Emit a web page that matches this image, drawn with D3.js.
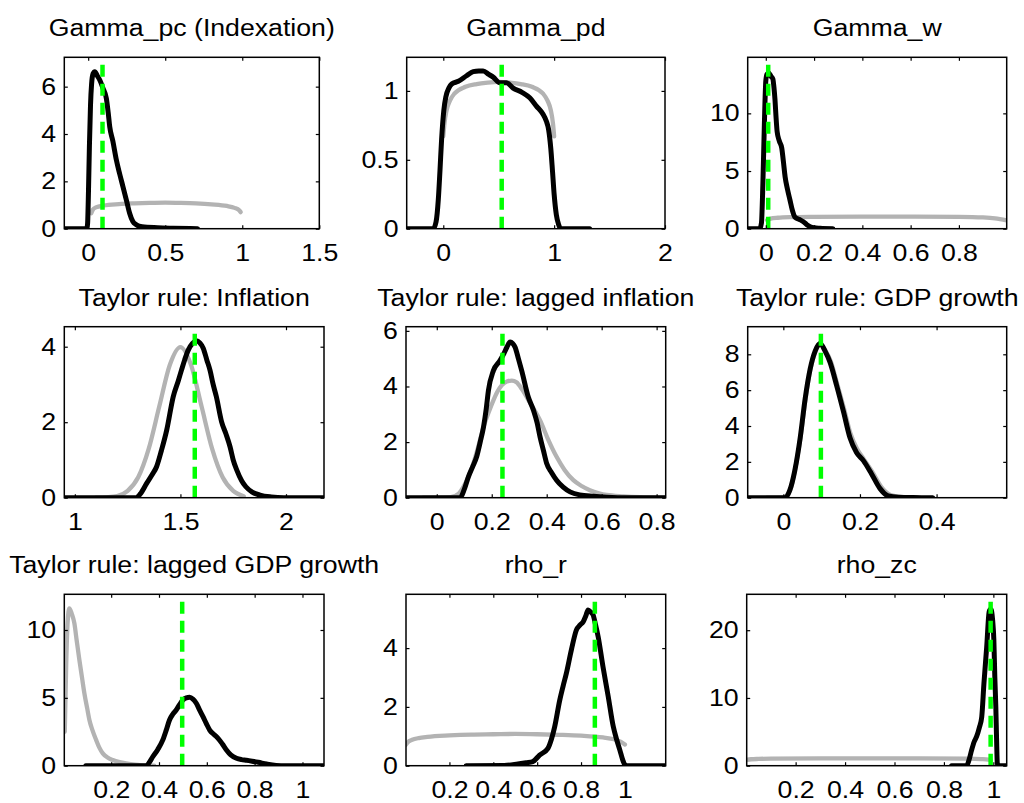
<!DOCTYPE html>
<html>
<head>
<meta charset="utf-8">
<script src="https://cdn.jsdelivr.net/npm/d3@7"></script>
<style>
  body { margin: 0; background: #fff; }
  svg text { font-family: "Liberation Sans", Arial, Helvetica, sans-serif; fill: #000; }
</style>
</head>
<body>
<div id="chart"></div>
<script>
// panel titles, posterior modes (green dashed line)
const titles = ["Gamma_pc (Indexation)", "Gamma_pd", "Gamma_w",
  "Taylor rule: Inflation", "Taylor rule: lagged inflation", "Taylor rule: GDP growth",
  "Taylor rule: lagged GDP growth", "rho_r", "rho_zc"];
const modes = [0.093, 0.527, 0.01, 1.568, 0.239, 0.098, 0.497, 0.863, 0.989];

// axis limits and ticks
const xDomains = [[-0.155, 1.5], [-0.33, 2.0], [-0.075, 0.998],
  [0.95, 2.18], [-0.112, 0.833], [-0.093, 0.583],
  [0.004, 1.09], [0.002, 1.186], [0.002, 1.054]];
const yDomains = [[0, 7.24], [0, 1.244], [0, 14.86],
  [0, 4.53], [0, 6.15], [0, 9.54],
  [0, 12.63], [0, 5.83], [0, 25.3]];
const xTicks = [[0, 0.5, 1, 1.5], [0, 1, 2], [0, 0.2, 0.4, 0.6, 0.8],
  [1, 1.5, 2], [0, 0.2, 0.4, 0.6, 0.8], [0, 0.2, 0.4],
  [0.2, 0.4, 0.6, 0.8, 1], [0.2, 0.4, 0.6, 0.8, 1], [0.2, 0.4, 0.6, 0.8, 1]];
const yTicks = [[0, 2, 4, 6], [0, 0.5, 1], [0, 5, 10],
  [0, 2, 4], [0, 2, 4, 6], [0, 2, 4, 6, 8],
  [0, 5, 10], [0, 2, 4], [0, 10, 20]];

// prior densities (grey)
const priors = [
  [[0.02,0.65],[0.03,0.8],[0.05,0.9],[0.1,0.98],[0.2,1.04],[0.3,1.07],[0.4,1.09],[0.5,1.1],[0.6,1.09],[0.7,1.07],[0.8,1.03],[0.9,0.96],[0.95,0.88],[0.98,0.78],[0.99,0.7]],
  [[0.0,0.67],[0.01,0.76],[0.03,0.86],[0.06,0.93],[0.1,0.98],[0.2,1.03],[0.3,1.05],[0.4,1.06],[0.5,1.065],[0.6,1.06],[0.7,1.05],[0.8,1.03],[0.9,0.98],[0.94,0.93],[0.97,0.86],[0.99,0.76],[1.0,0.67]],
  [[0.005,0.75],[0.02,0.88],[0.05,0.95],[0.1,1.0],[0.2,1.03],[0.4,1.05],[0.6,1.05],[0.8,1.03],[0.9,0.98],[0.95,0.9],[0.998,0.72]],
  [[1.1,0],[1.15,0.01],[1.2,0.04],[1.25,0.18],[1.3,0.54],[1.35,1.3],[1.4,2.42],[1.45,3.52],[1.5,3.99],[1.55,3.52],[1.6,2.42],[1.65,1.3],[1.7,0.54],[1.75,0.18],[1.8,0.04]],
  [[-0.05,0],[0.05,0.02],[0.08,0.15],[0.097,0.39],[0.115,0.75],[0.133,1.23],[0.15,1.8],[0.17,2.54],[0.19,3.1],[0.206,3.5],[0.22,3.8],[0.236,4.04],[0.255,4.18],[0.273,4.21],[0.29,4.15],[0.31,3.9],[0.34,3.4],[0.376,2.78],[0.405,2.1],[0.436,1.47],[0.465,1.0],[0.497,0.63],[0.527,0.42],[0.557,0.27],[0.59,0.16],[0.618,0.1],[0.68,0.05],[0.74,0.02],[0.83,0.0]],
  [[-0.043,0],[0.0,0.02],[0.01,0.15],[0.02,0.55],[0.03,1.5],[0.045,3.4],[0.058,5.5],[0.07,7.1],[0.083,8.1],[0.096,8.55],[0.11,8.2],[0.124,7.6],[0.14,6.4],[0.158,5.0],[0.175,3.6],[0.192,2.75],[0.21,2.15],[0.232,1.45],[0.255,0.62],[0.28,0.15],[0.31,0.04],[0.35,0]],
  [[0.006,2.5],[0.012,7.5],[0.018,10.6],[0.025,11.6],[0.035,11.2],[0.046,10.5],[0.056,9.2],[0.067,7.8],[0.078,6.5],[0.088,5.33],[0.1,4.2],[0.109,3.37],[0.122,2.6],[0.137,1.9],[0.15,1.35],[0.165,0.91],[0.185,0.6],[0.207,0.42],[0.235,0.27],[0.262,0.17],[0.3,0.07],[0.33,0.03],[0.38,0.0]],
  [[0.0,0.7],[0.01,0.8],[0.03,0.88],[0.06,0.94],[0.1,0.98],[0.2,1.03],[0.3,1.06],[0.4,1.07],[0.5,1.08],[0.6,1.07],[0.7,1.05],[0.8,1.02],[0.9,0.96],[0.95,0.9],[0.98,0.82],[1.0,0.72]],
  [[0.0,0.84],[0.02,0.95],[0.05,1.0],[0.1,1.04],[0.3,1.08],[0.5,1.09],[0.7,1.07],[0.9,1.03],[0.95,0.97],[0.98,0.88],[0.99,0.8]]
];

// posterior densities (black)
const posteriors = [
  [[-0.155,0],[-0.01,0],[-0.004,0.2],[0.002,1.6],[0.008,3.5],[0.015,5.2],[0.022,6.1],[0.032,6.55],[0.043,6.63],[0.06,6.45],[0.075,6.28],[0.095,5.95],[0.118,5.5],[0.13,4.9],[0.14,4.3],[0.16,3.7],[0.183,2.9],[0.205,2.3],[0.226,1.77],[0.25,1.15],[0.269,0.65],[0.29,0.3],[0.312,0.17],[0.35,0.08],[0.45,0.04],[0.55,0.02],[0.71,0]],
  [[-0.33,0],[-0.09,0],[-0.065,0.05],[-0.045,0.21],[-0.03,0.42],[-0.015,0.65],[0.005,0.86],[0.024,0.96],[0.05,1.02],[0.076,1.05],[0.136,1.07],[0.21,1.11],[0.27,1.14],[0.32,1.145],[0.36,1.145],[0.41,1.12],[0.45,1.1],[0.51,1.06],[0.57,1.06],[0.63,1.02],[0.71,0.99],[0.78,0.95],[0.84,0.89],[0.9,0.83],[0.93,0.78],[0.95,0.72],[0.97,0.58],[0.985,0.42],[1.0,0.25],[1.02,0.1],[1.04,0.03],[1.06,0],[1.32,0]],
  [[-0.075,0],[-0.025,0],[-0.018,0.5],[-0.012,4],[-0.006,9],[0.0,12.8],[0.005,13.4],[0.012,13.5],[0.022,13.2],[0.029,13.0],[0.034,12.2],[0.038,11.2],[0.042,9.8],[0.047,8.4],[0.056,7.6],[0.066,7.0],[0.073,5.8],[0.08,4.5],[0.09,3.4],[0.1,2.5],[0.11,1.6],[0.121,1.0],[0.14,0.8],[0.156,0.6],[0.17,0.35],[0.184,0.17],[0.2,0.08],[0.225,0.04],[0.278,0]],
  [[0.95,0],[1.29,0],[1.31,0.1],[1.34,0.38],[1.365,0.6],[1.387,0.82],[1.41,1.25],[1.435,1.79],[1.466,2.68],[1.49,3.1],[1.505,3.38],[1.52,3.65],[1.537,3.91],[1.556,4.08],[1.576,4.16],[1.592,4.1],[1.608,3.96],[1.625,3.65],[1.64,3.38],[1.655,3.0],[1.67,2.68],[1.695,2.01],[1.715,1.7],[1.735,1.35],[1.75,1.0],[1.767,0.73],[1.79,0.45],[1.81,0.29],[1.84,0.15],[1.877,0.07],[1.93,0.02],[1.99,0],[2.18,0]],
  [[-0.112,0],[0.085,0],[0.1,0.3],[0.115,0.75],[0.13,1.1],[0.145,1.47],[0.158,2.0],[0.17,2.54],[0.18,3.2],[0.188,3.86],[0.206,4.57],[0.23,4.93],[0.245,5.2],[0.255,5.41],[0.267,5.6],[0.276,5.55],[0.285,5.41],[0.297,5.0],[0.309,4.57],[0.333,3.62],[0.352,3.14],[0.365,2.7],[0.376,2.18],[0.388,1.7],[0.4,1.23],[0.418,0.9],[0.436,0.63],[0.46,0.38],[0.485,0.21],[0.52,0.1],[0.57,0.05],[0.618,0.02],[0.7,0],[0.833,0]],
  [[-0.093,0],[0.005,0],[0.017,0.42],[0.03,1.52],[0.044,3.34],[0.057,5.53],[0.07,7.18],[0.083,8.18],[0.096,8.6],[0.109,8.18],[0.122,7.55],[0.139,6.27],[0.157,4.8],[0.174,3.34],[0.191,2.52],[0.209,2.07],[0.23,1.34],[0.252,0.52],[0.274,0.1],[0.3,0.03],[0.339,0.01],[0.39,0]],
  [[0.094,0],[0.346,0],[0.36,0.25],[0.374,0.66],[0.395,1.2],[0.416,1.9],[0.43,2.6],[0.444,3.37],[0.458,3.8],[0.472,4.1],[0.486,4.5],[0.5,4.84],[0.514,5.0],[0.528,5.04],[0.542,4.9],[0.556,4.6],[0.57,4.1],[0.584,3.61],[0.598,3.1],[0.612,2.63],[0.63,2.3],[0.647,2.02],[0.665,1.6],[0.682,1.16],[0.7,0.8],[0.724,0.55],[0.745,0.45],[0.766,0.4],[0.79,0.33],[0.815,0.25],[0.85,0.12],[0.89,0.02],[0.93,0],[1.09,0]],
  [[0.276,0],[0.45,0.01],[0.505,0.05],[0.55,0.1],[0.58,0.14],[0.611,0.36],[0.649,0.59],[0.665,0.9],[0.68,1.33],[0.703,2.23],[0.718,2.7],[0.733,3.14],[0.756,3.94],[0.779,4.62],[0.795,4.78],[0.81,4.9],[0.822,5.1],[0.832,5.3],[0.845,5.22],[0.855,5.13],[0.866,4.8],[0.878,4.39],[0.9,3.37],[0.924,2.35],[0.947,1.33],[0.962,0.9],[0.977,0.53],[0.99,0.2],[1.0,0.03],[1.01,0],[1.186,0]],
  [[0.831,0],[0.892,0],[0.902,0.9],[0.912,2.3],[0.922,3.5],[0.932,4.28],[0.943,5.6],[0.953,7.2],[0.962,12.2],[0.973,17.5],[0.983,22.7],[0.988,23.1],[0.992,23.0],[0.997,21.5],[1.002,18.6],[1.006,13],[1.01,8.7],[1.013,4],[1.016,0.35],[1.02,0],[1.054,0]]
];

// axes boxes in pixels: left, top, right, bottom
const boxes = [
  [64.3, 57.3, 319.3, 228.7], [406.7, 57.3, 665, 228.7], [747.7, 57.3, 1006.7, 228.7],
  [64.3, 326.7, 324, 497.7], [406, 326.7, 665.7, 497.7], [747.7, 326.7, 1006.7, 497.7],
  [64.3, 594.3, 324, 765.7], [406, 594.3, 665.7, 765.7], [746.7, 594.3, 1006.7, 765.7]
];

const fontSize = 23, stretch = 1.16, tickLen = 3.5;

const svg = d3.select("#chart")
  .append("svg")
  .attr("width", 1024)
  .attr("height", 803);

titles.forEach(function(title, i) {
  const [l, t, r, b] = boxes[i];
  const x = d3.scaleLinear().domain(xDomains[i]).range([l, r]);
  const y = d3.scaleLinear().domain(yDomains[i]).range([b, t]);

  svg.append("clipPath").attr("id", "clip" + i)
    .append("rect").attr("x", l).attr("y", t).attr("width", r - l).attr("height", b - t);

  const line = d3.line()
    .x(d => x(d[0]))
    .y(d => y(d[1]))
    .curve(d3.curveMonotoneX);

  const plot = svg.append("g").attr("clip-path", "url(#clip" + i + ")");

  plot.append("path")
    .attr("d", line(priors[i]))
    .attr("fill", "none")
    .attr("stroke", "#b3b3b3")
    .attr("stroke-width", 4.3)
    .attr("stroke-linejoin", "round")
    .attr("stroke-linecap", "round");

  plot.append("path")
    .attr("d", line(posteriors[i]))
    .attr("fill", "none")
    .attr("stroke", "#000")
    .attr("stroke-width", 5)
    .attr("stroke-linejoin", "round")
    .attr("stroke-linecap", "round");

  plot.append("path")
    .attr("d", d3.line().x(d => x(d[0])).y(d => y(d[1]))([[modes[i], yDomains[i][0]], [modes[i], yDomains[i][1]]]))
    .attr("fill", "none")
    .attr("stroke", "#00ff00")
    .attr("stroke-width", 4.5)
    .attr("stroke-dasharray", "12,7");

  // box with inward ticks on all four sides
  const fmt = d => String(d);
  const gx = svg.append("g").attr("transform", `translate(0,${b})`)
    .call(d3.axisBottom(x).tickValues(xTicks[i]).tickSize(-tickLen).tickSizeOuter(0).tickPadding(15.5).tickFormat(fmt));
  svg.append("g").attr("transform", `translate(0,${t})`)
    .call(d3.axisTop(x).tickValues(xTicks[i]).tickSize(-tickLen).tickSizeOuter(0).tickFormat(""));
  const gy = svg.append("g").attr("transform", `translate(${l},0)`)
    .call(d3.axisLeft(y).tickValues(yTicks[i]).tickSize(-tickLen).tickSizeOuter(0).tickPadding(7).tickFormat(fmt));
  svg.append("g").attr("transform", `translate(${r},0)`)
    .call(d3.axisRight(y).tickValues(yTicks[i]).tickSize(-tickLen).tickSizeOuter(0).tickFormat(""));

  svg.selectAll(".domain").remove();
  svg.selectAll(".tick line").attr("stroke", "#000").attr("stroke-width", 1.2);

  [gx, gy].forEach(function(g) {
    g.attr("font-size", null).attr("font-family", null);
    g.selectAll("text")
      .style("font-size", fontSize + "px")
      .attr("transform", `scale(${stretch},1)`);
  });

  svg.append("rect")
    .attr("x", l).attr("y", t)
    .attr("width", r - l).attr("height", b - t)
    .attr("fill", "none")
    .attr("stroke", "#000")
    .attr("stroke-width", 1.5);

  svg.append("text")
    .attr("transform", `translate(${(l + r) / 2},${t - 21}) scale(${stretch},1)`)
    .attr("text-anchor", "middle")
    .style("font-size", fontSize + "px")
    .text(title);
});
</script>
</body>
</html>
